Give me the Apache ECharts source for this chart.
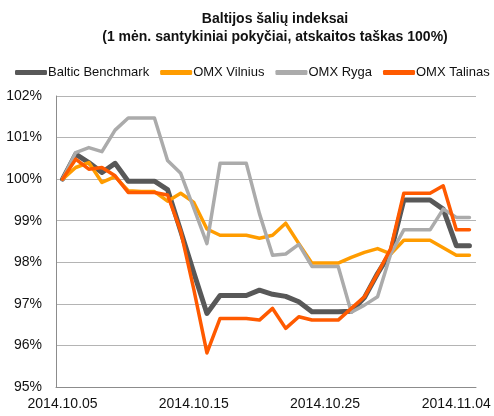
<!DOCTYPE html>
<html>
<head>
<meta charset="utf-8">
<script src="https://cdn.jsdelivr.net/npm/echarts@6/dist/echarts.min.js"></script>
<style>
  html, body { margin: 0; padding: 0; background: #fff; }
  #chart { width: 494px; height: 416px; }
</style>
</head>
<body>
<div id="chart"></div>
<script>
// dienos: 2014.10.05 ... 2014.11.05
const dates = [
  '2014.10.05', '2014.10.06', '2014.10.07', '2014.10.08', '2014.10.09', '2014.10.10',
  '2014.10.11', '2014.10.12', '2014.10.13', '2014.10.14', '2014.10.15', '2014.10.16',
  '2014.10.17', '2014.10.18', '2014.10.19', '2014.10.20', '2014.10.21', '2014.10.22',
  '2014.10.23', '2014.10.24', '2014.10.25', '2014.10.26', '2014.10.27', '2014.10.28',
  '2014.10.29', '2014.10.30', '2014.10.31', '2014.11.01', '2014.11.02', '2014.11.03',
  '2014.11.04', '2014.11.05'
]

const balticBenchmark = [100, 100.6, 100.4, 100.16, 100.38, 99.95, 99.95, 99.95, 99.75, 98.75, 97.75, 96.77,
  97.2, 97.2, 97.2, 97.33, 97.23, 97.18, 97.05, 96.81, 96.81, 96.81, 96.82, 97.15, 97.73, 98.24,
  99.5, 99.5, 99.5, 99.28, 98.4, 98.4]
const omxVilnius = [100, 100.28, 100.4, 99.92, 100.06, 99.72, 99.7, 99.7, 99.47, 99.66, 99.44, 98.8,
  98.65, 98.65, 98.65, 98.58, 98.65, 98.94, 98.45, 97.98, 97.98, 97.98, 98.12, 98.24, 98.33, 98.2,
  98.53, 98.53, 98.53, 98.35, 98.17, 98.17]
const omxRyga = [100, 100.64, 100.76, 100.66, 101.18, 101.47, 101.47, 101.47, 100.45, 100.14, 99.3, 98.45,
  100.38, 100.38, 100.38, 99.17, 98.17, 98.2, 98.43, 97.9, 97.9, 97.9, 96.8, 96.97, 97.17, 98.2,
  98.78, 98.78, 98.78, 99.28, 99.08, 99.08]
const omxTalinas = [100, 100.48, 100.24, 100.28, 100.08, 99.68, 99.68, 99.68, 99.62, 98.75, 97.35, 95.82,
  96.65, 96.65, 96.65, 96.61, 96.89, 96.41, 96.69, 96.61, 96.61, 96.61, 96.89, 97.17, 97.73, 98.33,
  99.66, 99.66, 99.66, 99.84, 98.78, 98.78]

const seriesNames = ['Baltic Benchmark', 'OMX Vilnius', 'OMX Ryga', 'OMX Talinas']
const seriesColors = ['#585858', '#FF9C00', '#ABABAB', '#FF5A00']

const font = 'Liberation Sans, Arial, sans-serif'
const chart = echarts.init(document.getElementById('chart'))

function line(name, data, color, width) {
  return {
    name: name,
    type: 'line',
    data: data,
    symbol: 'none',
    smooth: false,
    itemStyle: { color: color },
    lineStyle: { color: color, width: width, join: 'round', cap: 'round' }
  }
}

chart.setOption({
  animation: false,
  title: {
    text: 'Baltijos šalių indeksai\n(1 mėn. santykiniai pokyčiai, atskaitos taškas 100%)',
    left: 270,
    textAlign: 'center',
    top: 5,
    textStyle: { fontFamily: font, fontSize: 14, fontWeight: 'bold', color: '#111', lineHeight: 18 }
  },
  legend: {
    data: seriesNames,
    top: 66,
    left: 15,
    padding: 0,
    itemWidth: 32,
    itemHeight: 5,
    itemGap: 11,
    icon: 'roundRect',
    textStyle: { fontFamily: font, fontSize: 13, color: '#111', padding: [0, 0, 0, -4] }
  },
  grid: { left: 56, right: 18, top: 96, bottom: 29 },
  xAxis: {
    type: 'category',
    data: dates,
    boundaryGap: true,
    axisTick: { show: false },
    axisLine: { lineStyle: { color: '#8c8c8c', width: 1 } },
    axisLabel: { interval: 9, color: '#111', fontFamily: font, fontSize: 14, margin: 10 }
  },
  yAxis: {
    type: 'value',
    min: 95,
    max: 102,
    interval: 1,
    axisLine: { show: true, lineStyle: { color: '#8c8c8c', width: 1 } },
    axisTick: { show: false },
    splitLine: { lineStyle: { color: '#b4b4b4', width: 1 } },
    axisLabel: { formatter: '{value}%', color: '#111', fontFamily: font, fontSize: 14, margin: 14 }
  },
  series: [
    line(seriesNames[0], balticBenchmark, seriesColors[0], 5),
    line(seriesNames[1], omxVilnius, seriesColors[1], 3.5),
    line(seriesNames[2], omxRyga, seriesColors[2], 3.5),
    line(seriesNames[3], omxTalinas, seriesColors[3], 3.5)
  ]
})
</script>
</body>
</html>
